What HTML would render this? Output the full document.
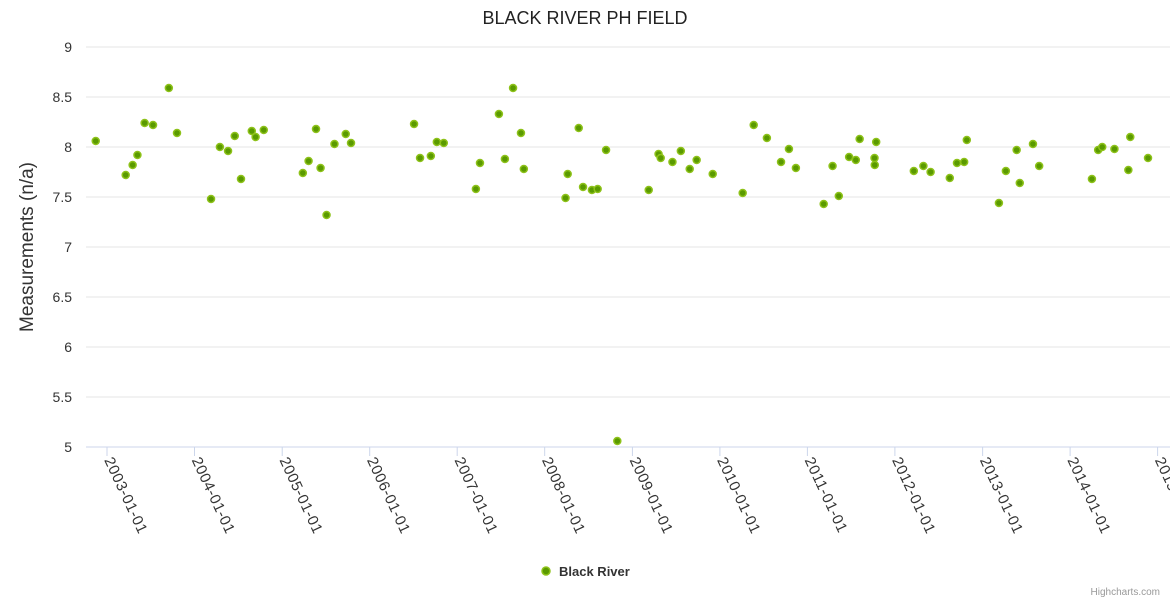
<!DOCTYPE html>
<html><head><meta charset="utf-8"><style>
body{margin:0;background:#fff;font-family:"Liberation Sans",sans-serif}
svg text{font-family:"Liberation Sans",sans-serif}
</style></head><body>
<svg id="chart" width="1170" height="600" xmlns="http://www.w3.org/2000/svg">
<rect width="1170" height="600" fill="#fff"/>
<text x="585" y="24" text-anchor="middle" font-size="18" fill="#222">BLACK RIVER PH FIELD</text>
<g id="grid"></g><g id="yticks"></g><g id="xticks"></g>
<text transform="translate(33,247) rotate(-90)" text-anchor="middle" font-size="19" fill="#333">Measurements (n/a)</text>
<g id="points"></g>
<g>
<circle cx="546" cy="571" r="4" fill="#5a9a00" stroke="#8ec21a" stroke-width="1.5"/>
<text x="559" y="576" font-size="13" font-weight="bold" fill="#333">Black River</text>
</g>
<text x="1160" y="595" text-anchor="end" font-size="10" fill="#999">Highcharts.com</text>
</svg>
<script>
const dates=["2002-11-15","2003-03-20","2003-04-18","2003-05-08","2003-06-07","2003-07-12","2003-09-16","2003-10-20","2004-03-10","2004-04-16","2004-05-20","2004-06-17","2004-07-13","2004-08-27","2004-09-12","2004-10-16","2005-03-28","2005-04-21","2005-05-22","2005-06-10","2005-07-05","2005-08-07","2005-09-23","2005-10-15","2006-07-05","2006-07-30","2006-09-13","2006-10-08","2006-11-06","2007-03-20","2007-04-06","2007-06-24","2007-07-19","2007-08-22","2007-09-24","2007-10-06","2008-03-28","2008-04-06","2008-05-22","2008-06-09","2008-07-16","2008-08-09","2008-09-13","2008-10-30","2009-03-10","2009-04-20","2009-04-29","2009-06-17","2009-07-22","2009-08-28","2009-09-26","2009-12-02","2010-04-06","2010-05-22","2010-07-16","2010-09-13","2010-10-16","2010-11-14","2011-03-10","2011-04-16","2011-05-12","2011-06-24","2011-07-22","2011-08-07","2011-10-08","2011-10-09","2011-10-15","2012-03-20","2012-04-29","2012-05-29","2012-08-17","2012-09-16","2012-10-16","2012-10-27","2013-03-10","2013-04-08","2013-05-23","2013-06-05","2013-07-30","2013-08-25","2014-04-02","2014-04-28","2014-05-15","2014-07-05","2014-09-01","2014-09-09","2014-11-22"];
const values=[8.06,7.72,7.82,7.92,8.24,8.22,8.59,8.14,7.48,8.00,7.96,8.11,7.68,8.16,8.10,8.17,7.74,7.86,8.18,7.79,7.32,8.03,8.13,8.04,8.23,7.89,7.91,8.05,8.04,7.58,7.84,8.33,7.88,8.59,8.14,7.78,7.49,7.73,8.19,7.60,7.57,7.58,7.97,5.06,7.57,7.93,7.89,7.85,7.96,7.78,7.87,7.73,7.54,8.22,8.09,7.85,7.98,7.79,7.43,7.81,7.51,7.90,7.87,8.08,7.89,7.82,8.05,7.76,7.81,7.75,7.69,7.84,7.85,8.07,7.44,7.76,7.97,7.64,8.03,7.81,7.68,7.97,8.00,7.98,7.77,8.10,7.89];
const yTicks=[5,5.5,6,6.5,7,7.5,8,8.5,9];
const xTickLabels=["2003-01-01","2004-01-01","2005-01-01","2006-01-01","2007-01-01","2008-01-01","2009-01-01","2010-01-01","2011-01-01","2012-01-01","2013-01-01","2014-01-01","2015-01-01"];
const NS="http://www.w3.org/2000/svg";
const t0=Date.UTC(2003,0,1), yearMs=365.25*864e5;
function xs(d){const p=d.split('-');return 107+(Date.UTC(+p[0],+p[1]-1,+p[2])-t0)/yearMs*87.55;}
function ys(v){return 447-(v-5)*100;}
function mk(tag,attrs,parent){const e=document.createElementNS(NS,tag);for(const k in attrs)e.setAttribute(k,attrs[k]);document.getElementById(parent).appendChild(e);return e;}
yTicks.forEach(v=>{
  const l=mk('line',{x1:86,x2:1170,y1:ys(v),y2:ys(v),stroke:v===5?'#ccd6eb':'#e6e6e6','stroke-width':1},'grid');
  
  
  const t=mk('text',{x:72,y:ys(v)+5,'text-anchor':'end','font-size':14,fill:'#333'},'yticks');
  t.textContent=String(v);
  
  
});
xTickLabels.forEach(d=>{
  const x=xs(d);
  const l=mk('line',{x1:x,x2:x,y1:447,y2:456,stroke:'#ccd6eb'},'xticks');
  
  
  const t=mk('text',{transform:`translate(${x-3},460) rotate(65)`,'font-size':15,'letter-spacing':'0.6',fill:'#333'},'xticks');
  t.textContent=d;
  
  
});
dates.forEach((d,i)=>{
  const c=mk('circle',{cx:xs(d),cy:ys(values[i]),r:3.5,fill:'#5a9a00',stroke:'#8ec21a','stroke-width':1.5},'points');
  
  
});
</script>
</body></html>
